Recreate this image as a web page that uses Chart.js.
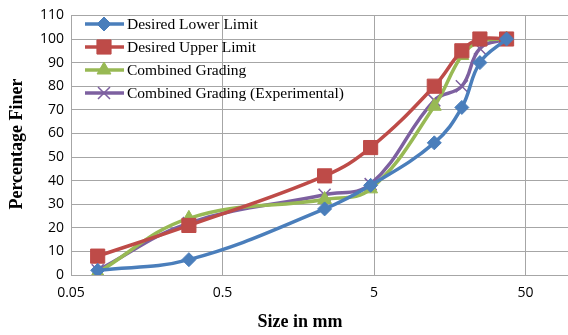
<!DOCTYPE html>
<html>
<head>
<meta charset="utf-8">
<script src="https://cdn.jsdelivr.net/npm/chart.js@4"></script>
<style>
  html, body { margin: 0; padding: 0; background: #fff; overflow: hidden; }
  #wrap { width: 579px; height: 335px; }
</style>
</head>
<body>
<div id="wrap"><canvas id="grading"></canvas></div>
<script>
// sieve sizes (mm) and percentage finer for each curve
const sieveSizes = [0.075, 0.3, 2.36, 4.75, 12.5, 19, 25, 37.5];
const lowerLimit = [2, 6.5, 28, 38, 56, 71, 90, 100];
const upperLimit = [8, 21, 42, 54, 80, 95, 100, 100];
const combined = [1, 24, 32, 36.5, 71.5, 93, 99, 100];
const experimental = [2, 22, 34, 38.5, 74, 80, 96, 100];
const seriesNames = ['Desired Lower Limit', 'Desired Upper Limit', 'Combined Grading', 'Combined Grading (Experimental)'];
const xTicks = [0.05, 0.5, 5, 50];
const xTitle = 'Size in mm';
const yTitle = 'Percentage Finer';

const colors = ['#4A7EBB', '#BE4B48', '#98B954', '#7D60A0'];
const markers = ['rectRot', 'rect', 'triangle', 'crossRot'];
const markerSize = [7, 10, 8, 8.5];

function makeSet(i, values) {
  return {
    label: seriesNames[i],
    data: sieveSizes.map((s, k) => ({ x: s, y: values[k] })),
    borderColor: colors[i],
    backgroundColor: colors[i],
    borderWidth: 3.5,
    pointStyle: markers[i],
    pointRadius: markerSize[i],
    pointBorderWidth: i === 3 ? 1.5 : 1,
    pointBorderColor: colors[i],
    tension: 0.4
  };
}

// hand-drawn legend over the plot, plus axis titles
const overlay = {
  id: 'overlay',
  afterDraw(chart) {
    const ctx = chart.ctx;
    ctx.save();
    chart.data.datasets.forEach((ds, i) => {
      const y = 24 + i * 23;
      ctx.strokeStyle = ds.borderColor;
      ctx.lineWidth = 3.5;
      ctx.beginPath();
      ctx.moveTo(85, y);
      ctx.lineTo(124, y);
      ctx.stroke();
      ctx.fillStyle = ds.borderColor;
      ctx.lineWidth = ds.pointBorderWidth;
      Chart.helpers.drawPoint(ctx, {
        pointStyle: ds.pointStyle, radius: ds.pointRadius, borderWidth: ds.pointBorderWidth
      }, 104, y);
      ctx.fillStyle = '#000';
      ctx.font = '15.5px "Liberation Serif"';
      ctx.textBaseline = 'middle';
      ctx.textAlign = 'left';
      ctx.fillText(ds.label, 127, y + 1);
    });
    ctx.font = 'bold 18px "Liberation Serif"';
    ctx.textAlign = 'center';
    ctx.fillText(xTitle, 300, 322);
    ctx.translate(17, 144);
    ctx.rotate(-Math.PI / 2);
    ctx.fillText(yTitle, 0, 0);
    ctx.restore();
  }
};

new Chart(document.getElementById('grading'), {
  type: 'line',
  data: {
    datasets: [
      makeSet(0, lowerLimit),
      makeSet(1, upperLimit),
      makeSet(2, combined),
      makeSet(3, experimental)
    ]
  },
  options: {
    responsive: true,
    maintainAspectRatio: false,
    animation: false,
    layout: { padding: { top: 10, left: 0, right: 0, bottom: 0 } },
    plugins: { legend: { display: false }, tooltip: { enabled: false } },
    scales: {
      x: {
        type: 'logarithmic',
        min: 0.05,
        max: 0.05 * Math.pow(10, 497 / 151.5),
        afterBuildTicks: (scale) => { scale.ticks = xTicks.map(v => ({ value: v })); },
        afterFit: (scale) => { scale.height = 60; },
        ticks: {
          autoSkip: false,
          maxRotation: 0,
          color: '#000',
          padding: 10,
          font: { family: '"Open Sans"', size: 14 },
          callback: (v) => String(v)
        },
        grid: { color: '#A6A6A6', lineWidth: 1, drawTicks: false },
        border: { color: '#A6A6A6' }
      },
      y: {
        min: 0,
        max: 110,
        afterFit: (scale) => { scale.width = 71; },
        ticks: {
          stepSize: 10,
          color: '#000',
          padding: 7,
          font: { family: '"Open Sans"', size: 14 }
        },
        grid: { color: '#A6A6A6', lineWidth: 1, drawTicks: false },
        border: { color: '#A6A6A6' }
      }
    }
  },
  plugins: [overlay]
});
</script>
</body>
</html>
